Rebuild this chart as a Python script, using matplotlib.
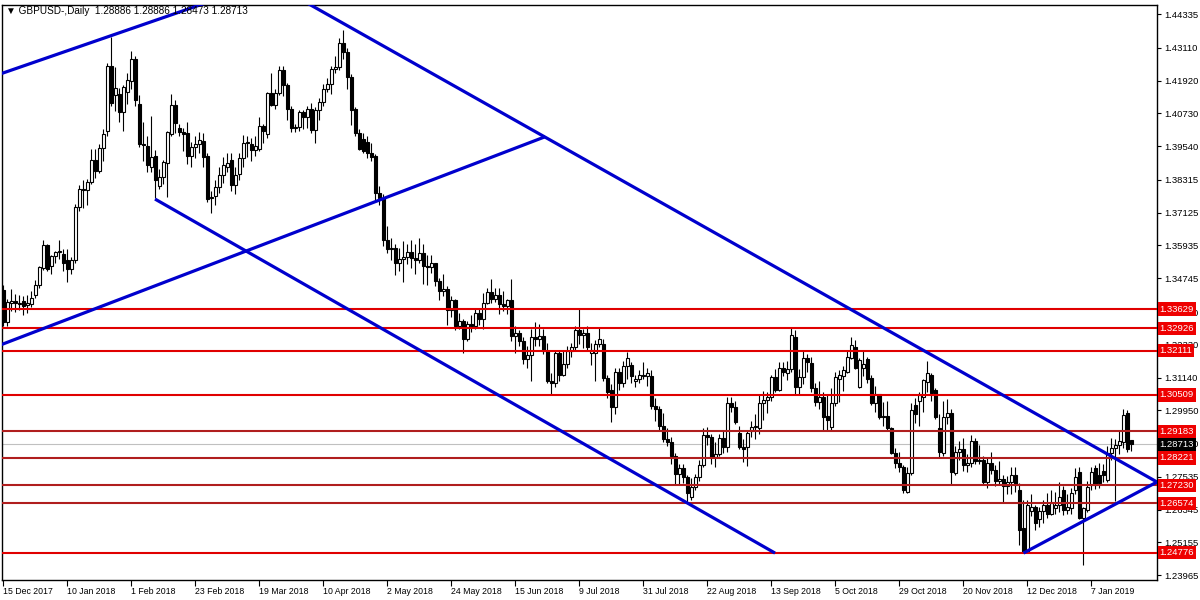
import numpy as np
import matplotlib.pyplot as plt
from matplotlib.transforms import blended_transform_factory

plt.rcParams['font.family'] = ['Liberation Sans', 'DejaVu Sans']

symbol = "GBPUSD-,Daily"

# daily candles, 15 Dec 2017 .. 21 Jan 2019
opens = [1.3433, 1.3315, 1.3385, 1.3392, 1.3380, 1.3393, 1.3378, 1.3380, 1.3413, 1.3450,
         1.3512, 1.3595, 1.3518, 1.3555, 1.3568, 1.3562, 1.3540, 1.3508, 1.3540, 1.3733,
         1.3798, 1.3795, 1.3825, 1.3905, 1.3862, 1.3946, 1.4009, 1.4245, 1.4140, 1.4143,
         1.4078, 1.4150, 1.4190, 1.4270, 1.4107, 1.3961, 1.3954, 1.3880, 1.3918, 1.3809,
         1.3842, 1.3893, 1.3998, 1.4103, 1.4020, 1.4005, 1.4002, 1.3918, 1.3950, 1.3962,
         1.3972, 1.3918, 1.3765, 1.3773, 1.3805, 1.3849, 1.3880, 1.3903, 1.3812, 1.3852,
         1.3911, 1.3965, 1.3962, 1.3940, 1.3943, 1.4027, 1.3998, 1.4147, 1.4102, 1.4147,
         1.4230, 1.4175, 1.4090, 1.4020, 1.4022, 1.4078, 1.4060, 1.4090, 1.4012, 1.4085,
         1.4115, 1.4160, 1.4180, 1.4235, 1.4240, 1.4330, 1.4295, 1.4205, 1.4090, 1.4000,
         1.3980, 1.3970, 1.3930, 1.3920, 1.3785, 1.3765, 1.3612, 1.3580, 1.3585, 1.3530,
         1.3545, 1.3550, 1.3570, 1.3548, 1.3540, 1.3565, 1.3520, 1.3515, 1.3530, 1.3465,
         1.3430, 1.3435, 1.3360, 1.3395, 1.3300, 1.3320, 1.3255, 1.3310, 1.3300, 1.3350,
         1.3325, 1.3385, 1.3425, 1.3400, 1.3415, 1.3380, 1.3375, 1.3395, 1.3265, 1.3275,
         1.3245, 1.3180, 1.3195, 1.3260, 1.3255, 1.3265, 1.3210, 1.3100, 1.3095, 1.3205,
         1.3125, 1.3165, 1.3210, 1.3225, 1.3285, 1.3270, 1.3275, 1.3205, 1.3205, 1.3235,
         1.3235, 1.3112, 1.3069, 1.3007, 1.3134, 1.3095, 1.3155, 1.3160, 1.3100, 1.3110,
         1.3125, 1.3120, 1.3120, 1.3010, 1.3000, 1.2940, 1.2890, 1.2880, 1.2830, 1.2765,
         1.2785, 1.2753, 1.2681, 1.2717, 1.2753, 1.2797, 1.2906, 1.2900, 1.2825, 1.2835,
         1.2895, 1.2863, 1.3022, 1.3007, 1.2913, 1.2862, 1.2862, 1.2920, 1.2935, 1.2930,
         1.3022, 1.3033, 1.3045, 1.3115, 1.3070, 1.3150, 1.3130, 1.3145, 1.3261, 1.3080,
         1.3116, 1.3185, 1.3167, 1.3076, 1.3025, 1.3043, 1.2975, 1.2935, 1.3022, 1.3110,
         1.3120, 1.3134, 1.3185, 1.3225, 1.3080, 1.3150, 1.3180, 1.3112, 1.3020, 1.3055,
         1.2970, 1.2975, 1.2930, 1.2840, 1.2805, 1.2789, 1.2699, 1.2768, 1.3014, 1.3030,
         1.3043, 1.3098, 1.3123, 1.3069, 1.2931, 1.2840, 1.2971, 1.2985, 1.2768, 1.2844,
         1.2855, 1.2795, 1.2805, 1.2885, 1.2810, 1.2815, 1.2735, 1.2805, 1.2780, 1.2740,
         1.2745, 1.2720, 1.2735, 1.2760, 1.2706, 1.2568, 1.2481, 1.2630, 1.2644, 1.2600,
         1.2630, 1.2650, 1.2620, 1.2640, 1.2650, 1.2706, 1.2633, 1.2640, 1.2706, 1.2771,
         1.2604, 1.2633, 1.2724, 1.2786, 1.2760, 1.2775, 1.2744, 1.2840, 1.2860, 1.2870,
         1.2880, 1.2985, 1.28886]
highs = [1.3450, 1.3400, 1.3434, 1.3416, 1.3415, 1.3411, 1.3412, 1.3430, 1.3468, 1.3520,
         1.3613, 1.3600, 1.3560, 1.3575, 1.3612, 1.3580, 1.3580, 1.3553, 1.3743, 1.3812,
         1.3830, 1.3835, 1.3945, 1.3943, 1.3960, 1.4018, 1.4255, 1.4350, 1.4240, 1.4165,
         1.4175, 1.4220, 1.4300, 1.4280, 1.4140, 1.4040, 1.3990, 1.4065, 1.3940, 1.3870,
         1.3905, 1.4010, 1.4145, 1.4120, 1.4035, 1.4020, 1.4040, 1.3970, 1.3990, 1.4005,
         1.4000, 1.3930, 1.3790, 1.3830, 1.3880, 1.3915, 1.3930, 1.3930, 1.3880, 1.3930,
         1.3995, 1.3990, 1.3985, 1.3990, 1.4060, 1.4035, 1.4150, 1.4220, 1.4160, 1.4245,
         1.4245, 1.4185, 1.4100, 1.4035, 1.4085, 1.4085, 1.4100, 1.4110, 1.4095, 1.4130,
         1.4180, 1.4200, 1.4245, 1.4280, 1.4345, 1.4377, 1.4310, 1.4215, 1.4095, 1.4015,
         1.4000, 1.3990, 1.3965, 1.3925, 1.3810, 1.3780, 1.3665, 1.3620, 1.3600, 1.3585,
         1.3610, 1.3600, 1.3615, 1.3600, 1.3620, 1.3600, 1.3560, 1.3560, 1.3530, 1.3475,
         1.3490, 1.3445, 1.3410, 1.3400, 1.3350, 1.3325, 1.3320, 1.3340, 1.3365, 1.3365,
         1.3420, 1.3440, 1.3472, 1.3440, 1.3440, 1.3430, 1.3400, 1.3470, 1.3300, 1.3285,
         1.3260, 1.3230, 1.3290, 1.3315, 1.3310, 1.3290, 1.3240, 1.3130, 1.3215, 1.3210,
         1.3215, 1.3230, 1.3240, 1.3300, 1.3363, 1.3290, 1.3300, 1.3240, 1.3250, 1.3295,
         1.3255, 1.3125, 1.3090, 1.3150, 1.3150, 1.3175, 1.3207, 1.3170, 1.3125, 1.3140,
         1.3170, 1.3150, 1.3140, 1.3040, 1.3010, 1.2985, 1.2930, 1.2900, 1.2840, 1.2800,
         1.2800, 1.2760, 1.2750, 1.2765, 1.2815, 1.2930, 1.2935, 1.2910, 1.2880, 1.2910,
         1.2920, 1.3045, 1.3045, 1.3030, 1.2940, 1.2890, 1.2925, 1.2955, 1.2980, 1.3050,
         1.3065, 1.3060, 1.3125, 1.3145, 1.3170, 1.3170, 1.3175, 1.3298, 1.3285, 1.3145,
         1.3215, 1.3200, 1.3190, 1.3095, 1.3100, 1.3060, 1.3050, 1.3075, 1.3135, 1.3140,
         1.3155, 1.3215, 1.3260, 1.3250, 1.3185, 1.3215, 1.3190, 1.3125, 1.3085, 1.3055,
         1.3025, 1.3030, 1.2935, 1.2860, 1.2845, 1.2795, 1.2790, 1.3020, 1.3040, 1.3060,
         1.3110, 1.3175, 1.3130, 1.3075, 1.2980, 1.3030, 1.3038, 1.3000, 1.2865, 1.2885,
         1.2895, 1.2835, 1.2905, 1.2895, 1.2870, 1.2830, 1.2825, 1.2845, 1.2795, 1.2810,
         1.2760, 1.2755, 1.2790, 1.2790, 1.2730, 1.2670, 1.2670, 1.2690, 1.2650, 1.2645,
         1.2670, 1.2695, 1.2705, 1.2700, 1.2735, 1.2720, 1.2690, 1.2715, 1.2785, 1.2790,
         1.2645, 1.2740, 1.2790, 1.2795, 1.2805, 1.2800, 1.2865, 1.2895, 1.2890, 1.2920,
         1.2999, 1.2996, 1.28886]
lows = [1.3300, 1.3303, 1.3356, 1.3352, 1.3360, 1.3342, 1.3347, 1.3370, 1.3403, 1.3440,
        1.3505, 1.3500, 1.3490, 1.3530, 1.3545, 1.3500, 1.3460, 1.3490, 1.3530, 1.3720,
        1.3730, 1.3740, 1.3815, 1.3838, 1.3855, 1.3900, 1.3990, 1.4100, 1.4080, 1.4040,
        1.4010, 1.4108, 1.4160, 1.4100, 1.3950, 1.3900, 1.3860, 1.3860, 1.3765, 1.3800,
        1.3815, 1.3770, 1.3990, 1.4000, 1.3990, 1.3935, 1.3890, 1.3880, 1.3910, 1.3930,
        1.3880, 1.3750, 1.3710, 1.3740, 1.3785, 1.3820, 1.3860, 1.3790, 1.3780, 1.3830,
        1.3880, 1.3915, 1.3900, 1.3920, 1.3935, 1.3965, 1.3985, 1.4100, 1.4090, 1.4140,
        1.4135, 1.4050, 1.4005, 1.4005, 1.4010, 1.4015, 1.4020, 1.4000, 1.3965, 1.4050,
        1.4100, 1.4150, 1.4145, 1.4220, 1.4230, 1.4270, 1.4160, 1.4030, 1.3990, 1.3940,
        1.3930, 1.3910, 1.3900, 1.3760, 1.3740, 1.3590, 1.3565, 1.3540, 1.3485, 1.3500,
        1.3460, 1.3525, 1.3510, 1.3490, 1.3530, 1.3455, 1.3450, 1.3495, 1.3445, 1.3395,
        1.3410, 1.3305, 1.3335, 1.3285, 1.3290, 1.3205, 1.3245, 1.3280, 1.3290, 1.3305,
        1.3290, 1.3380, 1.3385, 1.3390, 1.3345, 1.3355, 1.3345, 1.3245, 1.3205, 1.3230,
        1.3165, 1.3150, 1.3100, 1.3230, 1.3230, 1.3200, 1.3095, 1.3050, 1.3080, 1.3100,
        1.3120, 1.3150, 1.3190, 1.3210, 1.3235, 1.3220, 1.3210, 1.3160, 1.3100, 1.3225,
        1.3100, 1.3040, 1.2953, 1.2980, 1.3070, 1.3080, 1.3110, 1.3095, 1.3080, 1.3095,
        1.3110, 1.3085, 1.3000, 1.2955, 1.2920, 1.2880, 1.2865, 1.2800, 1.2725, 1.2725,
        1.2730, 1.2662, 1.2670, 1.2705, 1.2740, 1.2790, 1.2870, 1.2800, 1.2790, 1.2830,
        1.2840, 1.2845, 1.2990, 1.2945, 1.2855, 1.2807, 1.2793, 1.2900, 1.2890, 1.2910,
        1.2960, 1.2985, 1.3030, 1.3060, 1.3065, 1.3120, 1.3105, 1.3135, 1.3050, 1.3050,
        1.3090, 1.3135, 1.3060, 1.3010, 1.3000, 1.2920, 1.2920, 1.2925, 1.3010, 1.3025,
        1.3065, 1.3130, 1.3180, 1.3145, 1.3075, 1.3120, 1.3095, 1.3014, 1.2990, 1.2965,
        1.2940, 1.2925, 1.2835, 1.2785, 1.2770, 1.2695, 1.2695, 1.2760, 1.2950, 1.2940,
        1.2990, 1.3060, 1.3030, 1.2965, 1.2825, 1.2830, 1.2945, 1.2725, 1.2760, 1.2815,
        1.2775, 1.2770, 1.2790, 1.2800, 1.2800, 1.2725, 1.2715, 1.2765, 1.2720, 1.2725,
        1.2660, 1.2690, 1.2690, 1.2700, 1.2505, 1.2477, 1.2478, 1.2610, 1.2560, 1.2570,
        1.2585, 1.2605, 1.2615, 1.2620, 1.2625, 1.2615, 1.2620, 1.2620, 1.2690, 1.2600,
        1.2435, 1.2625, 1.2705, 1.2710, 1.2715, 1.2735, 1.2735, 1.2815, 1.2665, 1.2835,
        1.2860, 1.2845, 1.28473]
closes = [1.3315, 1.3388, 1.3392, 1.3385, 1.3386, 1.3375, 1.3385, 1.3402, 1.3450, 1.3515,
          1.3595, 1.3509, 1.3555, 1.3568, 1.3572, 1.3530, 1.3508, 1.3540, 1.3733, 1.3798,
          1.3795, 1.3825, 1.3905, 1.3862, 1.3946, 1.3998, 1.4245, 1.4110, 1.4165, 1.4078,
          1.4168, 1.4194, 1.4270, 1.4121, 1.3961, 1.3957, 1.3885, 1.3915, 1.3831, 1.3842,
          1.3896, 1.4005, 1.4103, 1.4038, 1.4005, 1.3998, 1.3918, 1.3950, 1.3962, 1.3975,
          1.3914, 1.3762, 1.3770, 1.3805, 1.3849, 1.3885, 1.3893, 1.3812, 1.3850, 1.3911,
          1.3965, 1.3970, 1.3940, 1.3955, 1.4027, 1.4010, 1.4147, 1.4102, 1.4147, 1.4230,
          1.4175, 1.4090, 1.4020, 1.4022, 1.4078, 1.4060, 1.4090, 1.4012, 1.4085, 1.4115,
          1.4160, 1.4180, 1.4235, 1.4240, 1.4330, 1.4295, 1.4205, 1.4085, 1.4000, 1.3945,
          1.3935, 1.3930, 1.3915, 1.3785, 1.3765, 1.3612, 1.3580, 1.3585, 1.3530, 1.3545,
          1.3550, 1.3570, 1.3548, 1.3540, 1.3565, 1.3520, 1.3515, 1.3530, 1.3465, 1.3430,
          1.3435, 1.3360, 1.3395, 1.3300, 1.3320, 1.3255, 1.3310, 1.3300, 1.3350, 1.3325,
          1.3385, 1.3425, 1.3400, 1.3415, 1.3380, 1.3375, 1.3395, 1.3265, 1.3275, 1.3245,
          1.3180, 1.3195, 1.3260, 1.3255, 1.3265, 1.3210, 1.3100, 1.3095, 1.3205, 1.3125,
          1.3165, 1.3210, 1.3225, 1.3285, 1.3270, 1.3275, 1.3225, 1.3215, 1.3235, 1.3255,
          1.3112, 1.3062, 1.3007, 1.3134, 1.3095, 1.3155, 1.3185, 1.3120, 1.3110, 1.3125,
          1.3120, 1.3130, 1.3010, 1.3000, 1.2940, 1.2890, 1.2880, 1.2830, 1.2765, 1.2785,
          1.2753, 1.2695, 1.2717, 1.2753, 1.2797, 1.2906, 1.2900, 1.2825, 1.2835, 1.2895,
          1.2863, 1.3022, 1.3007, 1.2953, 1.2862, 1.2855, 1.2913, 1.2935, 1.2940, 1.3022,
          1.3033, 1.3045, 1.3115, 1.3070, 1.3150, 1.3135, 1.3145, 1.3268, 1.3080, 1.3116,
          1.3185, 1.3170, 1.3076, 1.3025, 1.3043, 1.2971, 1.2960, 1.3022, 1.3116, 1.3125,
          1.3140, 1.3189, 1.3232, 1.3150, 1.3178, 1.3165, 1.3110, 1.3020, 1.3055, 1.2970,
          1.2975, 1.2930, 1.2840, 1.2805, 1.2789, 1.2706, 1.2768, 1.2996, 1.2982, 1.3050,
          1.3105, 1.3130, 1.3058, 1.2971, 1.2844, 1.2971, 1.2985, 1.2771, 1.2844, 1.2855,
          1.2795, 1.2805, 1.2885, 1.2810, 1.2815, 1.2735, 1.2805, 1.2780, 1.2740, 1.2745,
          1.2720, 1.2735, 1.2760, 1.2725, 1.2561, 1.2481, 1.2652, 1.2645, 1.2586, 1.2630,
          1.2650, 1.2620, 1.2660, 1.2650, 1.2680, 1.2633, 1.2645, 1.2695, 1.2753, 1.2604,
          1.2640, 1.2717, 1.2771, 1.2724, 1.2730, 1.2760, 1.2840, 1.2860, 1.2870, 1.2885,
          1.2978, 1.2855, 1.28713]

date_labels = ["15 Dec 2017", "10 Jan 2018", "1 Feb 2018", "23 Feb 2018", "19 Mar 2018",
               "10 Apr 2018", "2 May 2018", "24 May 2018", "15 Jun 2018", "9 Jul 2018",
               "31 Jul 2018", "22 Aug 2018", "13 Sep 2018", "5 Oct 2018", "29 Oct 2018",
               "20 Nov 2018", "12 Dec 2018", "7 Jan 2019"]
bars_per_label = 16

price_ticks = [1.44335, 1.43110, 1.41920, 1.40730, 1.39540, 1.38315, 1.37125, 1.35935,
               1.34745, 1.33520, 1.32330, 1.31140, 1.29950, 1.28760, 1.27535, 1.26345,
               1.25155, 1.23965]

# horizontal levels
levels_red = [1.33629, 1.32926, 1.32111, 1.30509, 1.24776]
levels_darkred = [1.29183, 1.28221, 1.27230, 1.26574]

# trend lines (start bar, start price, end bar, end price)
trend_bar0 = [-1.0, -1.0, 70.0, 37.9, 255.0]
trend_px0 = [1.4215, 1.3231, 1.4522, 1.3762, 1.2477]
trend_bar1 = [60.0, 135.4, 288.4, 192.9, 288.4]
trend_px1 = [1.4521, 1.3988, 1.27349, 1.2477, 1.2735]

blue = '#0000CD'
red = '#E00000'
darkred = '#B01E1E'
fs_y = 6.8
fs_x = 6.3

fig = plt.figure(figsize=(12, 6), dpi=100)
ax = fig.add_axes([0.0015, 0.0333, 0.9627, 0.9584])

x = np.arange(len(closes))
o = np.array(opens); h = np.array(highs); l = np.array(lows); c = np.array(closes)
up = c >= o

ax.vlines(x, l, h, color='black', linewidth=0.8, zorder=2)
body_lo = np.minimum(o, c)
body_h = np.maximum(np.abs(c - o), 0.00012)
ax.bar(x[up], body_h[up], bottom=body_lo[up], width=0.6, color='white',
       edgecolor='black', linewidth=0.8, zorder=3)
ax.bar(x[~up], body_h[~up], bottom=body_lo[~up], width=0.6, color='black',
       edgecolor='black', linewidth=0.8, zorder=3)

# current price line
ax.axhline(closes[-1], color='#C0C0C0', linewidth=0.8, zorder=1)

for lv in levels_red:
    ax.axhline(lv, color=red, linewidth=1.5, zorder=4)
for lv in levels_darkred:
    ax.axhline(lv, color=darkred, linewidth=1.5, zorder=4)

for b0, p0, b1, p1 in zip(trend_bar0, trend_px0, trend_bar1, trend_px1):
    ax.plot([b0, b1], [p0, p1], color=blue, linewidth=2.3, zorder=5,
            solid_capstyle='butt')

ax.set_xlim(-0.4, 288.4)
ax.set_ylim(1.23792, 1.44664)

# axes look
for s in ax.spines.values():
    s.set_color('black')
    s.set_linewidth(1.0)
ax.yaxis.tick_right()
ax.set_yticks(price_ticks, labels=[f"{v:.5f}" for v in price_ticks])
ax.tick_params(axis='y', direction='out', length=3, width=0.8, pad=2,
               labelsize=fs_y, colors='black')
tick_pos = [i * bars_per_label for i in range(len(date_labels))]
ax.set_xticks(tick_pos, labels=date_labels)
ax.tick_params(axis='x', direction='out', length=4, width=0.8, pad=1,
               labelsize=fs_x, colors='black')
for t in ax.get_xticklabels():
    t.set_ha('left')

tr = blended_transform_factory(ax.transAxes, ax.transData)
for lv in levels_red + levels_darkred:
    ax.text(1.0022, lv, f"{lv:.5f}", transform=tr, color='white', fontsize=fs_y,
            va='center', ha='left', clip_on=False, zorder=10,
            bbox=dict(boxstyle='square,pad=0.22', fc='#EE0000', ec='none'))
ax.text(1.0022, closes[-1], f"{closes[-1]:.5f}", transform=tr, color='white',
        fontsize=fs_y, va='center', ha='left', clip_on=False, zorder=10,
        bbox=dict(boxstyle='square,pad=0.22', fc='black', ec='none'))

header = (f"\u25bc {symbol}  {opens[-1]:.5f} {highs[-1]:.5f} "
          f"{lows[-1]:.5f} {closes[-1]:.5f}")
ax.text(0.004, 0.989, header, transform=ax.transAxes, fontsize=7.2,
        va='center', ha='left', color='black', zorder=6)

fig.savefig('out.png', dpi=100, facecolor='white')
